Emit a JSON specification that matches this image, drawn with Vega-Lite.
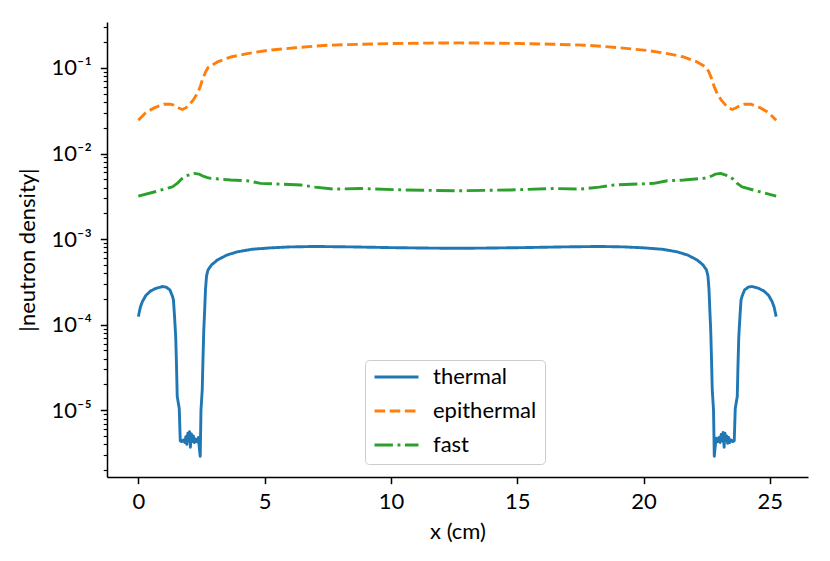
{
  "$schema": "https://vega.github.io/schema/vega-lite/v6.json",
  "description": "Neutron density by energy group across the slab, log scale.",
  "width": 701,
  "height": 455,
  "autosize": "none",
  "padding": {"left": 107, "top": 22, "right": 22, "bottom": 84},
  "config": {
    "font": "Lato",
    "view": {"stroke": null},
    "axis": {
      "grid": false,
      "domainColor": "black",
      "domainWidth": 1.5,
      "tickColor": "black",
      "labelColor": "black",
      "titleColor": "black",
      "labelFontSize": 22,
      "titleFontSize": 22,
      "titleFontWeight": "normal",
      "labelOverlap": false,
      "labelFlush": false
    },
    "legend": {
      "orient": "none",
      "legendX": 258,
      "legendY": 338,
      "padding": 8,
      "fillColor": "rgba(255,255,255,0.8)",
      "strokeColor": "#cccccc",
      "cornerRadius": 4,
      "symbolType": "stroke",
      "symbolSize": 1936,
      "symbolStrokeWidth": 2.9,
      "labelFontSize": 22,
      "labelColor": "black",
      "labelOffset": 13,
      "clipHeight": 18,
      "rowPadding": 12
    }
  },
  "data": {
    "values": [
      {"x": 0.0, "d": 0.000124, "s": "thermal"},
      {"x": 0.08, "d": 0.00016, "s": "thermal"},
      {"x": 0.16, "d": 0.000186, "s": "thermal"},
      {"x": 0.3, "d": 0.00022, "s": "thermal"},
      {"x": 0.49, "d": 0.000248, "s": "thermal"},
      {"x": 0.7, "d": 0.000266, "s": "thermal"},
      {"x": 0.95, "d": 0.000279, "s": "thermal"},
      {"x": 1.1, "d": 0.000275, "s": "thermal"},
      {"x": 1.25, "d": 0.000255, "s": "thermal"},
      {"x": 1.35, "d": 0.000215, "s": "thermal"},
      {"x": 1.39, "d": 0.000195, "s": "thermal"},
      {"x": 1.43, "d": 0.00013, "s": "thermal"},
      {"x": 1.48, "d": 0.000072, "s": "thermal"},
      {"x": 1.51, "d": 0.000035, "s": "thermal"},
      {"x": 1.54, "d": 0.0000145, "s": "thermal"},
      {"x": 1.62, "d": 0.0000105, "s": "thermal"},
      {"x": 1.66, "d": 0.0000044, "s": "thermal"},
      {"x": 1.72, "d": 0.0000043, "s": "thermal"},
      {"x": 1.78, "d": 0.0000045, "s": "thermal"},
      {"x": 1.84, "d": 0.0000042, "s": "thermal"},
      {"x": 1.88, "d": 0.0000049, "s": "thermal"},
      {"x": 1.92, "d": 0.000004, "s": "thermal"},
      {"x": 1.96, "d": 0.0000054, "s": "thermal"},
      {"x": 2.0, "d": 0.0000044, "s": "thermal"},
      {"x": 2.03, "d": 0.0000056, "s": "thermal"},
      {"x": 2.06, "d": 0.0000037, "s": "thermal"},
      {"x": 2.1, "d": 0.0000053, "s": "thermal"},
      {"x": 2.14, "d": 0.0000043, "s": "thermal"},
      {"x": 2.18, "d": 0.000005, "s": "thermal"},
      {"x": 2.22, "d": 0.0000042, "s": "thermal"},
      {"x": 2.27, "d": 0.0000046, "s": "thermal"},
      {"x": 2.32, "d": 0.0000043, "s": "thermal"},
      {"x": 2.38, "d": 0.0000048, "s": "thermal"},
      {"x": 2.42, "d": 0.0000035, "s": "thermal"},
      {"x": 2.45, "d": 0.0000029, "s": "thermal"},
      {"x": 2.48, "d": 0.00001, "s": "thermal"},
      {"x": 2.53, "d": 0.0000173, "s": "thermal"},
      {"x": 2.56, "d": 0.00004, "s": "thermal"},
      {"x": 2.59, "d": 0.000085, "s": "thermal"},
      {"x": 2.62, "d": 0.000134, "s": "thermal"},
      {"x": 2.66, "d": 0.00026, "s": "thermal"},
      {"x": 2.7, "d": 0.00037, "s": "thermal"},
      {"x": 2.76, "d": 0.000437, "s": "thermal"},
      {"x": 2.9, "d": 0.0005, "s": "thermal"},
      {"x": 3.13, "d": 0.00057, "s": "thermal"},
      {"x": 3.5, "d": 0.00065, "s": "thermal"},
      {"x": 3.92, "d": 0.00071, "s": "thermal"},
      {"x": 4.5, "d": 0.00076, "s": "thermal"},
      {"x": 5.24, "d": 0.00079, "s": "thermal"},
      {"x": 6.0, "d": 0.00081, "s": "thermal"},
      {"x": 7.0, "d": 0.00082, "s": "thermal"},
      {"x": 8.5, "d": 0.00081, "s": "thermal"},
      {"x": 10.0, "d": 0.000795, "s": "thermal"},
      {"x": 11.5, "d": 0.000785, "s": "thermal"},
      {"x": 12.625, "d": 0.00078, "s": "thermal"},
      {"x": 13.75, "d": 0.000785, "s": "thermal"},
      {"x": 15.25, "d": 0.000795, "s": "thermal"},
      {"x": 16.75, "d": 0.00081, "s": "thermal"},
      {"x": 18.25, "d": 0.00082, "s": "thermal"},
      {"x": 19.25, "d": 0.00081, "s": "thermal"},
      {"x": 20.01, "d": 0.00079, "s": "thermal"},
      {"x": 20.75, "d": 0.00076, "s": "thermal"},
      {"x": 21.33, "d": 0.00071, "s": "thermal"},
      {"x": 21.75, "d": 0.00065, "s": "thermal"},
      {"x": 22.12, "d": 0.00057, "s": "thermal"},
      {"x": 22.35, "d": 0.0005, "s": "thermal"},
      {"x": 22.49, "d": 0.000437, "s": "thermal"},
      {"x": 22.55, "d": 0.00037, "s": "thermal"},
      {"x": 22.59, "d": 0.00026, "s": "thermal"},
      {"x": 22.63, "d": 0.000134, "s": "thermal"},
      {"x": 22.66, "d": 0.000085, "s": "thermal"},
      {"x": 22.69, "d": 0.00004, "s": "thermal"},
      {"x": 22.72, "d": 0.0000173, "s": "thermal"},
      {"x": 22.77, "d": 0.00001, "s": "thermal"},
      {"x": 22.8, "d": 0.0000029, "s": "thermal"},
      {"x": 22.83, "d": 0.0000036, "s": "thermal"},
      {"x": 22.87, "d": 0.0000047, "s": "thermal"},
      {"x": 22.93, "d": 0.0000043, "s": "thermal"},
      {"x": 22.98, "d": 0.0000048, "s": "thermal"},
      {"x": 23.03, "d": 0.0000042, "s": "thermal"},
      {"x": 23.07, "d": 0.0000052, "s": "thermal"},
      {"x": 23.11, "d": 0.0000044, "s": "thermal"},
      {"x": 23.15, "d": 0.0000055, "s": "thermal"},
      {"x": 23.19, "d": 0.0000037, "s": "thermal"},
      {"x": 23.22, "d": 0.0000054, "s": "thermal"},
      {"x": 23.25, "d": 0.0000045, "s": "thermal"},
      {"x": 23.29, "d": 0.000005, "s": "thermal"},
      {"x": 23.33, "d": 0.0000041, "s": "thermal"},
      {"x": 23.37, "d": 0.0000048, "s": "thermal"},
      {"x": 23.41, "d": 0.0000042, "s": "thermal"},
      {"x": 23.47, "d": 0.0000045, "s": "thermal"},
      {"x": 23.53, "d": 0.0000043, "s": "thermal"},
      {"x": 23.59, "d": 0.0000044, "s": "thermal"},
      {"x": 23.63, "d": 0.0000105, "s": "thermal"},
      {"x": 23.71, "d": 0.0000145, "s": "thermal"},
      {"x": 23.74, "d": 0.000035, "s": "thermal"},
      {"x": 23.77, "d": 0.000072, "s": "thermal"},
      {"x": 23.82, "d": 0.00013, "s": "thermal"},
      {"x": 23.86, "d": 0.000195, "s": "thermal"},
      {"x": 23.9, "d": 0.000215, "s": "thermal"},
      {"x": 24.0, "d": 0.000255, "s": "thermal"},
      {"x": 24.15, "d": 0.000275, "s": "thermal"},
      {"x": 24.3, "d": 0.000279, "s": "thermal"},
      {"x": 24.55, "d": 0.000266, "s": "thermal"},
      {"x": 24.76, "d": 0.000248, "s": "thermal"},
      {"x": 24.95, "d": 0.00022, "s": "thermal"},
      {"x": 25.09, "d": 0.000186, "s": "thermal"},
      {"x": 25.17, "d": 0.00016, "s": "thermal"},
      {"x": 25.25, "d": 0.000124, "s": "thermal"},

      {"x": 0.0, "d": 0.0245, "s": "epithermal"},
      {"x": 0.29, "d": 0.0299, "s": "epithermal"},
      {"x": 0.62, "d": 0.0341, "s": "epithermal"},
      {"x": 1.01, "d": 0.0377, "s": "epithermal"},
      {"x": 1.25, "d": 0.0378, "s": "epithermal"},
      {"x": 1.41, "d": 0.0367, "s": "epithermal"},
      {"x": 1.6, "d": 0.034, "s": "epithermal"},
      {"x": 1.74, "d": 0.0327, "s": "epithermal"},
      {"x": 1.87, "d": 0.034, "s": "epithermal"},
      {"x": 2.0, "d": 0.0367, "s": "epithermal"},
      {"x": 2.17, "d": 0.042, "s": "epithermal"},
      {"x": 2.33, "d": 0.05, "s": "epithermal"},
      {"x": 2.45, "d": 0.06, "s": "epithermal"},
      {"x": 2.53, "d": 0.0718, "s": "epithermal"},
      {"x": 2.65, "d": 0.088, "s": "epithermal"},
      {"x": 2.76, "d": 0.101, "s": "epithermal"},
      {"x": 3.13, "d": 0.1175, "s": "epithermal"},
      {"x": 3.65, "d": 0.134, "s": "epithermal"},
      {"x": 4.31, "d": 0.147, "s": "epithermal"},
      {"x": 5.1, "d": 0.16, "s": "epithermal"},
      {"x": 6.2, "d": 0.172, "s": "epithermal"},
      {"x": 7.48, "d": 0.184, "s": "epithermal"},
      {"x": 8.8, "d": 0.189, "s": "epithermal"},
      {"x": 10.12, "d": 0.193, "s": "epithermal"},
      {"x": 11.5, "d": 0.195, "s": "epithermal"},
      {"x": 12.625, "d": 0.196, "s": "epithermal"},
      {"x": 13.75, "d": 0.195, "s": "epithermal"},
      {"x": 15.13, "d": 0.193, "s": "epithermal"},
      {"x": 16.45, "d": 0.189, "s": "epithermal"},
      {"x": 17.77, "d": 0.184, "s": "epithermal"},
      {"x": 19.05, "d": 0.172, "s": "epithermal"},
      {"x": 20.15, "d": 0.16, "s": "epithermal"},
      {"x": 20.94, "d": 0.147, "s": "epithermal"},
      {"x": 21.6, "d": 0.134, "s": "epithermal"},
      {"x": 22.12, "d": 0.1175, "s": "epithermal"},
      {"x": 22.49, "d": 0.101, "s": "epithermal"},
      {"x": 22.6, "d": 0.088, "s": "epithermal"},
      {"x": 22.72, "d": 0.0718, "s": "epithermal"},
      {"x": 22.8, "d": 0.06, "s": "epithermal"},
      {"x": 22.92, "d": 0.05, "s": "epithermal"},
      {"x": 23.08, "d": 0.042, "s": "epithermal"},
      {"x": 23.25, "d": 0.0367, "s": "epithermal"},
      {"x": 23.38, "d": 0.034, "s": "epithermal"},
      {"x": 23.51, "d": 0.0327, "s": "epithermal"},
      {"x": 23.65, "d": 0.034, "s": "epithermal"},
      {"x": 23.84, "d": 0.0367, "s": "epithermal"},
      {"x": 24.0, "d": 0.0378, "s": "epithermal"},
      {"x": 24.24, "d": 0.0377, "s": "epithermal"},
      {"x": 24.63, "d": 0.0341, "s": "epithermal"},
      {"x": 24.96, "d": 0.0299, "s": "epithermal"},
      {"x": 25.25, "d": 0.0245, "s": "epithermal"},

      {"x": 0.0, "d": 0.00318, "s": "fast"},
      {"x": 0.7, "d": 0.0036, "s": "fast"},
      {"x": 1.35, "d": 0.00408, "s": "fast"},
      {"x": 1.54, "d": 0.00447, "s": "fast"},
      {"x": 1.7, "d": 0.005, "s": "fast"},
      {"x": 1.87, "d": 0.00545, "s": "fast"},
      {"x": 2.2, "d": 0.00586, "s": "fast"},
      {"x": 2.4, "d": 0.00575, "s": "fast"},
      {"x": 2.53, "d": 0.0055, "s": "fast"},
      {"x": 2.7, "d": 0.00525, "s": "fast"},
      {"x": 2.86, "d": 0.00513, "s": "fast"},
      {"x": 3.65, "d": 0.0049, "s": "fast"},
      {"x": 4.31, "d": 0.0048, "s": "fast"},
      {"x": 4.84, "d": 0.00448, "s": "fast"},
      {"x": 5.5, "d": 0.0044, "s": "fast"},
      {"x": 6.43, "d": 0.00428, "s": "fast"},
      {"x": 7.0, "d": 0.00405, "s": "fast"},
      {"x": 7.74, "d": 0.00384, "s": "fast"},
      {"x": 8.8, "d": 0.0039, "s": "fast"},
      {"x": 10.5, "d": 0.00375, "s": "fast"},
      {"x": 12.625, "d": 0.00367, "s": "fast"},
      {"x": 14.75, "d": 0.00375, "s": "fast"},
      {"x": 16.45, "d": 0.0039, "s": "fast"},
      {"x": 17.51, "d": 0.00384, "s": "fast"},
      {"x": 18.25, "d": 0.00405, "s": "fast"},
      {"x": 18.82, "d": 0.00428, "s": "fast"},
      {"x": 19.75, "d": 0.0044, "s": "fast"},
      {"x": 20.41, "d": 0.00448, "s": "fast"},
      {"x": 20.94, "d": 0.0048, "s": "fast"},
      {"x": 21.6, "d": 0.0049, "s": "fast"},
      {"x": 22.39, "d": 0.00513, "s": "fast"},
      {"x": 22.55, "d": 0.00525, "s": "fast"},
      {"x": 22.72, "d": 0.0055, "s": "fast"},
      {"x": 22.85, "d": 0.00575, "s": "fast"},
      {"x": 23.05, "d": 0.00586, "s": "fast"},
      {"x": 23.38, "d": 0.00545, "s": "fast"},
      {"x": 23.55, "d": 0.005, "s": "fast"},
      {"x": 23.71, "d": 0.00447, "s": "fast"},
      {"x": 23.9, "d": 0.00408, "s": "fast"},
      {"x": 24.55, "d": 0.0036, "s": "fast"},
      {"x": 25.25, "d": 0.00318, "s": "fast"}
    ]
  },
  "mark": {"type": "line", "strokeWidth": 2.9, "strokeCap": "butt", "strokeJoin": "round"},
  "encoding": {
    "x": {
      "field": "x",
      "type": "quantitative",
      "scale": {"domain": [-1.24, 26.51], "nice": false, "zero": false},
      "axis": {
        "title": "x (cm)",
        "values": [0, 5, 10, 15, 20, 25],
        "format": "d",
        "tickSize": 6.7,
        "tickWidth": 1.5,
        "labelPadding": 8,
        "titlePadding": 9
      }
    },
    "y": {
      "field": "d",
      "type": "quantitative",
      "scale": {"type": "log", "domain": [0.00000166, 0.344], "nice": false},
      "axis": {
        "title": "|neutron density|",
        "values": [0.000002, 0.000003, 0.000004, 0.000005, 0.000006, 0.000007, 0.000008, 0.000009,
                   0.00001, 0.00002, 0.00003, 0.00004, 0.00005, 0.00006, 0.00007, 0.00008, 0.00009,
                   0.0001, 0.0002, 0.0003, 0.0004, 0.0005, 0.0006, 0.0007, 0.0008, 0.0009,
                   0.001, 0.002, 0.003, 0.004, 0.005, 0.006, 0.007, 0.008, 0.009,
                   0.01, 0.02, 0.03, 0.04, 0.05, 0.06, 0.07, 0.08, 0.09,
                   0.1, 0.2, 0.3],
        "labelExpr": "abs(log(datum.value)/LN10 - round(log(datum.value)/LN10)) > 0.001 ? '' : round(log(datum.value)/LN10) == -1 ? '10⁻¹' : round(log(datum.value)/LN10) == -2 ? '10⁻²' : round(log(datum.value)/LN10) == -3 ? '10⁻³' : round(log(datum.value)/LN10) == -4 ? '10⁻⁴' : '10⁻⁵'",
        "tickSize": {"condition": {"test": "abs(log(datum.value)/LN10 - round(log(datum.value)/LN10)) < 0.001", "value": 6.7}, "value": 3.8},
        "tickWidth": {"condition": {"test": "abs(log(datum.value)/LN10 - round(log(datum.value)/LN10)) < 0.001", "value": 1.5}, "value": 1.15},
        "labelPadding": 9,
        "titlePadding": 12
      }
    },
    "color": {
      "field": "s",
      "type": "nominal",
      "scale": {"domain": ["thermal", "epithermal", "fast"], "range": ["#1f77b4", "#ff7f0e", "#2ca02c"]},
      "legend": {"title": null}
    },
    "strokeDash": {
      "field": "s",
      "type": "nominal",
      "scale": {"domain": ["thermal", "epithermal", "fast"], "range": [[1, 0], [10.6, 4.6], [18.4, 4.6, 2.9, 4.6]]},
      "legend": {"title": null}
    }
  }
}
